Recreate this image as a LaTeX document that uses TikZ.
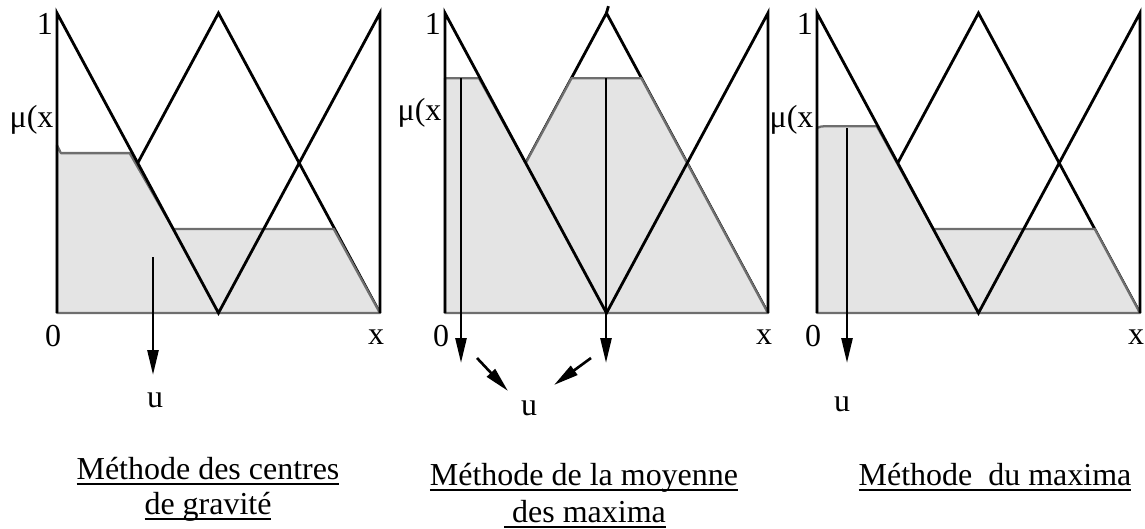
\documentclass[tikz,border=0pt]{standalone}
\usepackage{fontspec}
\setmainfont{Liberation Serif}
\usetikzlibrary{arrows.meta}
\definecolor{grisaire}{HTML}{E4E4E4}
\definecolor{grisbord}{HTML}{6E6E6E}
\newsavebox\boitesous
\newcommand\souligne[1]{\sbox\boitesous{#1}%
  \rlap{\rule[-0.2em]{\wd\boitesous}{0.075em}}\usebox\boitesous}
\tikzset{
  panel/.style={shift={(#1,313)},x=6.46cm,y=6cm},
  memb/.style={draw=black,line width=1.6pt},
  aire/.style={fill=grisaire,draw=grisbord,line width=1.3pt,line join=round},
  lbl/.style={font=\fontsize{18.2}{22}\selectfont,inner sep=0pt,text=black},
  arr/.style={-{Triangle[length=0.5cm,width=0.22cm]},line width=1.5pt,draw=black},
  titre/.style={font=\fontsize{18.2}{22}\selectfont,inner sep=0pt,anchor=base},
}
\begin{document}
\begin{tikzpicture}[x=0.02cm,y=-0.02cm]
    \useasboundingbox (0,0) rectangle (1145,528);
    % triangle du milieu (en partie cache par les aires)
    \foreach \px in {57,445,817}{
      \begin{scope}[panel=\px]
        \draw[memb] (0,0) -- (0.5,1) -- (1,0);
      \end{scope}
    }
    % aires coupees
    \begin{scope}[panel=57]
      \draw[aire] (0,0) -- (0,0.56) -- (0.012,0.533) -- (0.225,0.533) -- (0.36,0.28)
        -- (0.857,0.28) -- (1,0) -- cycle;
    \end{scope}
    \begin{scope}[panel=445]
      \draw[aire] (0,0) -- (0,0.783) -- (0.105,0.783) -- (0.25,0.5) -- (0.392,0.783)
        -- (0.608,0.783) -- (1,0) -- cycle;
    \end{scope}
    \begin{scope}[panel=817]
      \draw[aire] (0,0) -- (0,0.617) .. controls (0.01,0.622) .. (0.034,0.623)
        -- (0.185,0.623) -- (0.36,0.28) -- (0.86,0.28) -- (1,0) -- cycle;
    \end{scope}
    % triangles des bords et axes
    \foreach \px/\my [count=\k] in {57/0.643,445/0.667,817/0.643}{
      \begin{scope}[panel=\px]
        \draw[memb] (0,0) -- (0,1) -- (0.5,0) -- (1,1) -- (1,0);
        \node[lbl,anchor=north east] (un\k) at (-0.012,1) {1};
        \node[lbl,anchor=east] (mu\k) at (-0.01,\my) {μ(x};
        \node[lbl] (zero\k) at (-0.012,-0.077) {0};
        \node[lbl] (ix\k) at (0.988,-0.08) {x};
      \end{scope}
    }
    \begin{scope}[panel=445]
      \draw[memb] (0.5,1) -- (0.506,1.023);
    \end{scope}
    % centre de gravite
    \coordinate (g1) at (153,257);
    \coordinate (g1b) at (153,375);
    \draw[arr] (g1) -- (g1b);
    \node[lbl] (u1) at (155,400) {u};
    % moyenne des maxima
    \coordinate (m2a) at (461,78);
    \coordinate (m2ab) at (461,363);
    \coordinate (m2b) at (606,78);
    \coordinate (m2bb) at (606,363);
    \draw[arr] (m2a) -- (m2ab);
    \draw[arr] (m2b) -- (m2bb);
    \coordinate (d2a) at (477,358);
    \coordinate (d2ab) at (508,391);
    \coordinate (d2b) at (591,358);
    \coordinate (d2bb) at (554,385);
    \draw[arr] (d2a) -- (d2ab);
    \draw[arr] (d2b) -- (d2bb);
    \node[lbl] (u2) at (529,408) {u};
    % maximum
    \coordinate (m3) at (847,128);
    \coordinate (m3b) at (847,363);
    \draw[arr] (m3) -- (m3b);
    \node[lbl] (u3) at (842,404) {u};
    % titres
    \node[titre] (t1a) at (208,479) {\souligne{Méthode des centres}};
    \node[titre] (t1b) at (208,514) {\souligne{de gravité}};
    \node[titre] (t2a) at (584,485) {\souligne{Méthode de la moyenne}};
    \node[titre] (t2b) at (585,522) {\souligne{\ des maxima}};
    \node[titre] (t3) at (995,485) {\souligne{Méthode\ \ du maxima}};
\end{tikzpicture}
\end{document}
